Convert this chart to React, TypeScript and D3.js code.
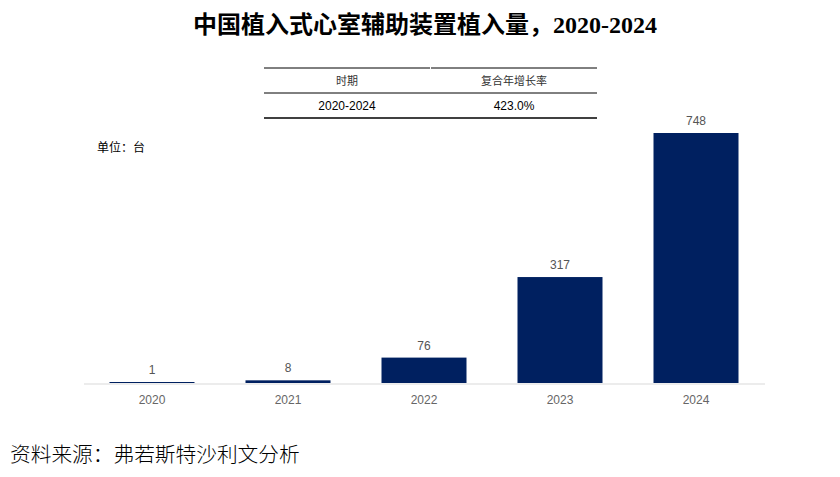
import React, { useEffect, useRef } from "react";
import * as d3 from "d3";

const years = ["2020", "2021", "2022", "2023", "2024"];
const values = [1, 8, 76, 317, 748];
const tableHeader = ["时期", "复合年增长率"];
const tableRow = ["2020-2024", "423.0%"];

const width = 840;
const height = 477;
const barColor = "#002060";
const cjk = "'Noto Sans CJK SC', 'Noto Sans', sans-serif";
const serif = "'Liberation Serif', 'Noto Sans CJK SC', serif";

const App = () => {
  const ref = useRef<SVGSVGElement>(null);

  useEffect(() => {
    const svg = d3.select(ref.current);
    svg.selectAll("*").remove();

    // title
    svg
      .append("text")
      .attr("x", 425)
      .attr("y", 33)
      .attr("text-anchor", "middle")
      .attr("font-family", serif)
      .attr("font-weight", "bold")
      .attr("font-size", 24)
      .attr("fill", "#000")
      .text("中国植入式心室辅助装置植入量，2020-2024");

    // CAGR table
    const cols = [
      [264, 430],
      [431, 597],
    ];
    const tbl = svg.append("g");
    cols.forEach(([a, b]) => {
      tbl.append("line").attr("x1", a).attr("x2", b).attr("y1", 68).attr("y2", 68).attr("stroke", "#000").attr("stroke-width", 1);
    });
    [93, 118].forEach((y) =>
      tbl.append("line").attr("x1", 264).attr("x2", 597).attr("y1", y).attr("y2", y).attr("stroke", "#000").attr("stroke-width", y === 118 ? 1.5 : 1)
    );
    cols.forEach(([a, b], i) => {
      const cx = (a + b) / 2;
      tbl
        .append("text")
        .attr("x", cx)
        .attr("y", 85)
        .attr("text-anchor", "middle")
        .attr("font-family", cjk)
        .attr("font-size", 11)
        .attr("fill", "#333")
        .text(tableHeader[i]);
      tbl
        .append("text")
        .attr("x", cx)
        .attr("y", 110)
        .attr("text-anchor", "middle")
        .attr("font-family", "'Liberation Sans', Arial, sans-serif")
        .attr("font-size", 12)
        .attr("fill", "#000")
        .text(tableRow[i]);
    });

    // unit
    svg
      .append("text")
      .attr("x", 97)
      .attr("y", 152)
      .attr("font-family", cjk)
      .attr("font-size", 12)
      .attr("fill", "#000")
      .text("单位：台");

    const x = d3.scaleBand().domain(years).range([84, 764]).paddingInner(0.375).paddingOuter(0.1875);
    const y = d3.scaleLinear().domain([0, 748]).range([383, 133]);

    // axis baseline
    svg
      .append("line")
      .attr("x1", 84)
      .attr("x2", 765)
      .attr("y1", 384)
      .attr("y2", 384)
      .attr("stroke", "#e6e6e6")
      .attr("stroke-width", 1.5);

    svg
      .selectAll("rect.bar")
      .data(values)
      .enter()
      .append("rect")
      .attr("class", "bar")
      .attr("x", (_, i) => x(years[i])!)
      .attr("width", x.bandwidth())
      .attr("y", (d) => Math.min(y(d), 382))
      .attr("height", (d) => Math.max(383 - y(d), 1))
      .attr("fill", barColor);

    svg
      .selectAll("text.val")
      .data(values)
      .enter()
      .append("text")
      .attr("class", "val")
      .attr("x", (_, i) => x(years[i])! + x.bandwidth() / 2)
      .attr("y", (d) => Math.min(y(d), 382) - 8)
      .attr("text-anchor", "middle")
      .attr("font-family", "'Liberation Sans', Arial, sans-serif")
      .attr("font-size", 12)
      .attr("fill", "#555")
      .text((d) => d);

    svg
      .selectAll("text.tick")
      .data(years)
      .enter()
      .append("text")
      .attr("class", "tick")
      .attr("x", (d) => x(d)! + x.bandwidth() / 2)
      .attr("y", 404)
      .attr("text-anchor", "middle")
      .attr("font-family", "'Liberation Sans', Arial, sans-serif")
      .attr("font-size", 12)
      .attr("fill", "#666")
      .text((d) => d);

    // source
    svg
      .append("text")
      .attr("x", 10)
      .attr("y", 462)
      .attr("font-family", serif)
      .attr("font-size", 20.7)
      .attr("font-weight", 300)
      .attr("fill", "#000")
      .text("资料来源：弗若斯特沙利文分析");
  }, []);

  return (
    <svg
      ref={ref}
      width={width}
      height={height}
      style={{ position: "absolute", left: 0, top: 0, background: "#fff" }}
    ></svg>
  );
};

export default App;
